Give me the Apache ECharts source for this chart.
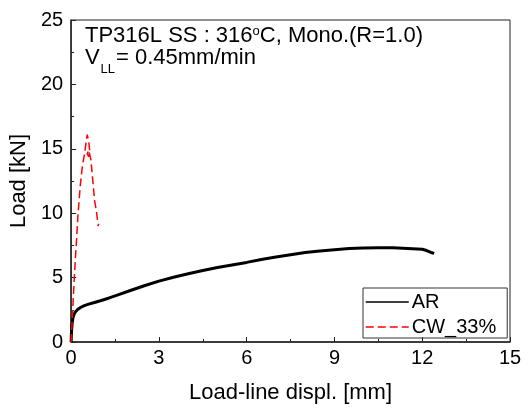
<!DOCTYPE html>
<html>
<head>
<meta charset="utf-8">
<script src="https://cdn.jsdelivr.net/npm/echarts@6/dist/echarts.min.js"></script>
<style>
  html, body { margin: 0; padding: 0; background: #fff; }
  #chart { width: 530px; height: 409px; }
</style>
</head>
<body>
<div id="chart"></div>
<script>
// AR 곡선 (load-line displ. [mm], load [kN])
const arX = [0, 0.01, 0.03, 0.06, 0.1, 0.15, 0.22, 0.32, 0.45, 0.6, 0.8, 1.0, 1.3, 1.6, 2.0, 2.5, 3.0, 3.5, 4.0, 4.5, 5.0, 5.5, 6.0, 6.5, 7.0, 7.5, 8.0, 8.5, 9.0, 9.5, 10.0, 10.5, 11.0, 11.5, 12.0, 12.15, 12.3, 12.41];
const arY = [0, 0.7, 1.35, 1.85, 2.15, 2.35, 2.52, 2.68, 2.82, 2.94, 3.07, 3.2, 3.42, 3.66, 3.98, 4.37, 4.73, 5.03, 5.3, 5.55, 5.78, 5.98, 6.18, 6.4, 6.6, 6.78, 6.95, 7.07, 7.17, 7.25, 7.3, 7.32, 7.31, 7.26, 7.2, 7.1, 6.95, 6.88];
// CW_33% 곡선
const cwX = [0, 0.03, 0.06, 0.11, 0.17, 0.23, 0.31, 0.38, 0.46, 0.5, 0.55, 0.6, 0.64, 0.6, 0.55, 0.6, 0.67, 0.71, 0.75, 0.8, 0.86, 0.91, 0.94, 0.9];
const cwY = [0, 1.5, 2.8, 5.1, 7.4, 9.75, 12.1, 13.6, 14.65, 15.3, 16.1, 15.6, 14.7, 14.4, 14.6, 14.9, 14.2, 13.3, 12.3, 11.0, 10.2, 9.3, 9.1, 9.0];

const xMin = 0, xMax = 15, xStep = 3;
const yMin = 0, yMax = 25, yStep = 5;

const fontFamily = '"Liberation Sans", Arial, sans-serif';

const zip = (xs, ys) => xs.map((x, i) => [x, ys[i]]);

const chart = echarts.init(document.getElementById('chart'));

const axisCommon = {
  axisLine: { show: true, onZero: false, lineStyle: { color: '#222', width: 1.5 } },
  axisTick: { show: true, inside: true, length: 5, lineStyle: { color: '#222', width: 1 } },
  minorTick: { show: true, splitNumber: 2, length: 3, lineStyle: { color: '#222', width: 1 } },
  splitLine: { show: false },
  axisLabel: { color: '#000', fontSize: 20, fontFamily: fontFamily },
  nameTextStyle: { color: '#000', fontSize: 22, fontFamily: fontFamily },
};

chart.setOption({
  animation: false,
  grid: {
    left: 71, right: 20, top: 20, bottom: 66,
    show: true, borderColor: '#222', borderWidth: 1, backgroundColor: 'transparent',
  },
  xAxis: Object.assign({}, axisCommon, {
    type: 'value',
    min: xMin, max: xMax, interval: xStep,
    name: 'Load-line displ. [mm]',
    nameLocation: 'middle',
    nameGap: 40,
    axisLabel: Object.assign({}, axisCommon.axisLabel, { margin: 6 }),
  }),
  yAxis: Object.assign({}, axisCommon, {
    type: 'value',
    min: yMin, max: yMax, interval: yStep,
    name: 'Load [kN]',
    nameLocation: 'middle',
    nameGap: 33,
    axisLabel: Object.assign({}, axisCommon.axisLabel, { margin: 8 }),
  }),
  legend: {
    orient: 'vertical',
    left: 363, top: 288,
    padding: [4, 11, 1, 2],
    itemGap: 5,
    itemWidth: 43,
    itemHeight: 10,
    borderColor: '#333',
    borderWidth: 1,
    itemStyle: { opacity: 0 },
    lineStyle: { width: 1.5 },
    textStyle: { color: '#000', fontSize: 20, fontFamily: fontFamily, padding: [0, 0, 0, -2] },
    data: ['AR', 'CW_33%'],
  },
  graphic: [
    {
      type: 'text', left: 85, top: 25,
      style: {
        text: 'TP316L SS : 316{sup|o}C, Mono.(R=1.0)',
        fill: '#000',
        font: '22px ' + fontFamily,
        rich: {
          sup: { fontSize: 13, fontFamily: fontFamily, verticalAlign: 'top', fill: '#000' },
        },
      },
    },
    { type: 'text', left: 85, top: 47, style: { text: 'V', fill: '#000', font: '22px ' + fontFamily } },
    { type: 'text', left: 100.5, top: 63, style: { text: 'LL', fill: '#000', font: '13px ' + fontFamily } },
    { type: 'text', left: 116, top: 47, style: { text: '= 0.45mm/min', fill: '#000', font: '22px ' + fontFamily } },
  ],
  series: [
    {
      name: 'AR',
      type: 'line',
      data: zip(arX, arY),
      symbol: 'none',
      lineStyle: { color: '#000', width: 3 },
      itemStyle: { color: '#000' },
    },
    {
      name: 'CW_33%',
      type: 'line',
      data: zip(cwX, cwY),
      symbol: 'none',
      lineStyle: { color: '#ff0000', width: 1.5, type: [8, 4] },
      itemStyle: { color: '#ff0000' },
    },
  ],
});
</script>
</body>
</html>
